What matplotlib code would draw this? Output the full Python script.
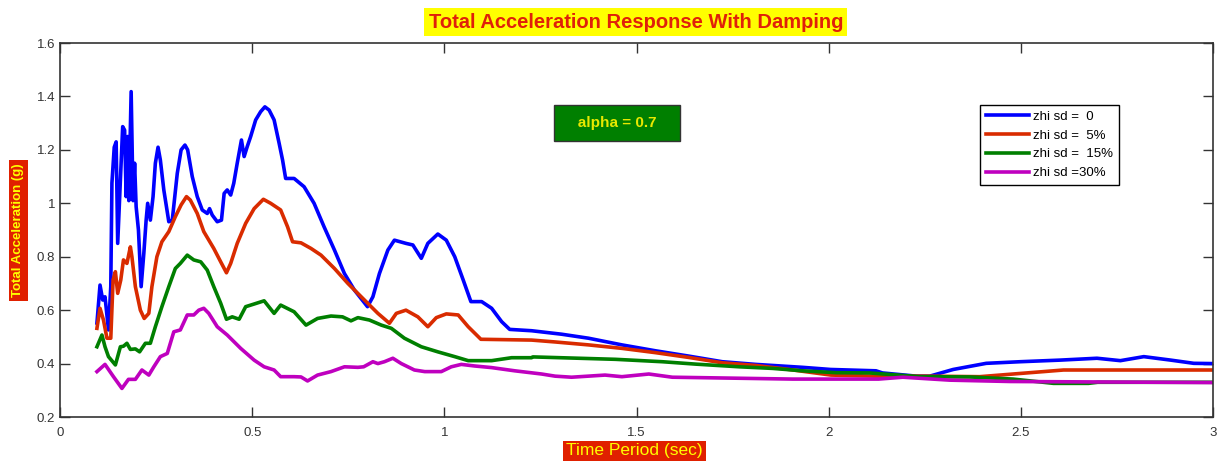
import matplotlib
matplotlib.use("Agg")
import matplotlib.pyplot as plt

# zhi sd = 0
period_0 = [0.096, 0.104, 0.111, 0.117, 0.126, 0.132, 0.135, 0.141, 0.146, 0.150,
            0.157, 0.163, 0.168, 0.172, 0.176, 0.179, 0.185, 0.190, 0.194, 0.198,
            0.204, 0.211, 0.218, 0.224, 0.228, 0.235, 0.242, 0.248, 0.255, 0.261,
            0.270, 0.283, 0.292, 0.305, 0.315, 0.325, 0.332, 0.344, 0.357, 0.370,
            0.383, 0.389, 0.396, 0.409, 0.420, 0.427, 0.435, 0.444, 0.452, 0.461,
            0.472, 0.479, 0.487, 0.496, 0.509, 0.522, 0.533, 0.544, 0.557, 0.570,
            0.579, 0.587, 0.609, 0.635, 0.661, 0.687, 0.714, 0.740, 0.766, 0.800,
            0.814, 0.831, 0.853, 0.870, 0.900, 0.918, 0.940, 0.957, 0.983, 1.005,
            1.027, 1.049, 1.069, 1.097, 1.123, 1.149, 1.170, 1.227, 1.305, 1.375,
            1.462, 1.549, 1.636, 1.723, 1.810, 1.932, 2.005, 2.123, 2.140, 2.228,
            2.263, 2.324, 2.410, 2.498, 2.602, 2.698, 2.759, 2.820, 2.890, 2.950, 3.0]
acc_0 = [0.552, 0.694, 0.638, 0.650, 0.526, 0.688, 1.076, 1.210, 1.230, 0.850,
         1.087, 1.287, 1.274, 1.025, 1.250, 1.010, 1.418, 1.010, 1.150, 0.987,
         0.900, 0.688, 0.813, 0.937, 1.000, 0.937, 1.025, 1.150, 1.210, 1.162,
         1.050, 0.931, 0.937, 1.112, 1.200, 1.218, 1.200, 1.100, 1.025, 0.975,
         0.962, 0.980, 0.956, 0.931, 0.937, 1.037, 1.050, 1.031, 1.075, 1.150,
         1.237, 1.175, 1.212, 1.250, 1.312, 1.343, 1.361, 1.349, 1.312, 1.225,
         1.162, 1.093, 1.093, 1.062, 1.000, 0.912, 0.825, 0.737, 0.675, 0.613,
         0.650, 0.737, 0.825, 0.862, 0.850, 0.844, 0.794, 0.850, 0.885, 0.862,
         0.800, 0.713, 0.632, 0.632, 0.607, 0.557, 0.528, 0.523, 0.510, 0.495,
         0.470, 0.448, 0.428, 0.407, 0.397, 0.386, 0.378, 0.373, 0.365, 0.353,
         0.353, 0.378, 0.401, 0.407, 0.413, 0.420, 0.411, 0.426, 0.413, 0.401, 0.400]

# zhi sd = 5%
period_5 = [0.096, 0.104, 0.113, 0.122, 0.132, 0.138, 0.144, 0.150, 0.158, 0.165,
            0.174, 0.183, 0.187, 0.196, 0.209, 0.219, 0.231, 0.239, 0.252, 0.265,
            0.283, 0.300, 0.315, 0.329, 0.339, 0.357, 0.374, 0.400, 0.418, 0.433,
            0.444, 0.461, 0.483, 0.505, 0.529, 0.548, 0.574, 0.592, 0.605, 0.627,
            0.653, 0.679, 0.714, 0.749, 0.792, 0.827, 0.857, 0.875, 0.900, 0.931,
            0.957, 0.979, 1.005, 1.036, 1.062, 1.095, 1.227, 1.288, 1.375, 1.462,
            1.549, 1.636, 1.723, 1.810, 1.897, 2.006, 2.120, 2.250, 2.393, 2.480,
            2.559, 2.611, 3.0]
acc_5 = [0.532, 0.607, 0.563, 0.495, 0.495, 0.713, 0.744, 0.663, 0.713, 0.788,
         0.775, 0.837, 0.800, 0.688, 0.600, 0.569, 0.588, 0.688, 0.800, 0.856,
         0.894, 0.950, 0.994, 1.025, 1.012, 0.962, 0.894, 0.831, 0.781, 0.740,
         0.775, 0.850, 0.925, 0.980, 1.015, 1.000, 0.975, 0.912, 0.856, 0.852,
         0.831, 0.806, 0.756, 0.700, 0.638, 0.588, 0.551, 0.588, 0.600, 0.575,
         0.538, 0.572, 0.586, 0.582, 0.538, 0.491, 0.488, 0.481, 0.470, 0.457,
         0.441, 0.423, 0.403, 0.393, 0.378, 0.357, 0.353, 0.353, 0.351, 0.361,
         0.370, 0.376, 0.376]

# zhi sd = 15%
period_15 = [0.096, 0.109, 0.117, 0.126, 0.144, 0.157, 0.165, 0.174, 0.183, 0.196,
             0.207, 0.222, 0.235, 0.248, 0.265, 0.283, 0.300, 0.313, 0.331, 0.348,
             0.366, 0.383, 0.400, 0.418, 0.433, 0.448, 0.466, 0.483, 0.505, 0.531,
             0.557, 0.574, 0.609, 0.640, 0.670, 0.705, 0.735, 0.757, 0.775, 0.805,
             0.836, 0.862, 0.896, 0.940, 0.983, 1.027, 1.062, 1.123, 1.175, 1.227,
             1.230, 1.445, 1.567, 1.654, 1.767, 1.854, 1.932, 2.019, 2.106, 2.237,
             2.367, 2.480, 2.585, 2.676, 2.700, 3.0]
acc_15 = [0.463, 0.507, 0.463, 0.426, 0.395, 0.463, 0.465, 0.476, 0.453, 0.455,
          0.444, 0.476, 0.476, 0.538, 0.613, 0.688, 0.756, 0.775, 0.806, 0.788,
          0.781, 0.750, 0.688, 0.626, 0.566, 0.575, 0.566, 0.613, 0.623, 0.635,
          0.588, 0.619, 0.594, 0.544, 0.569, 0.578, 0.575, 0.560, 0.572, 0.563,
          0.544, 0.532, 0.495, 0.463, 0.444, 0.426, 0.411, 0.411, 0.422, 0.422,
          0.425, 0.416, 0.407, 0.398, 0.388, 0.382, 0.373, 0.366, 0.365, 0.351,
          0.350, 0.342, 0.326, 0.326, 0.330, 0.330]

# zhi sd = 30%
period_30 = [0.096, 0.117, 0.139, 0.161, 0.178, 0.196, 0.213, 0.231, 0.244, 0.261,
             0.279, 0.296, 0.313, 0.331, 0.348, 0.361, 0.374, 0.387, 0.409, 0.435,
             0.470, 0.505, 0.531, 0.557, 0.574, 0.609, 0.627, 0.644, 0.670, 0.705,
             0.740, 0.775, 0.790, 0.814, 0.827, 0.844, 0.866, 0.888, 0.922, 0.949,
             0.992, 1.018, 1.044, 1.079, 1.123, 1.183, 1.253, 1.288, 1.331, 1.418,
             1.462, 1.532, 1.593, 1.906, 2.130, 2.193, 2.315, 2.472, 3.0]
acc_30 = [0.370, 0.397, 0.351, 0.307, 0.341, 0.341, 0.376, 0.357, 0.388, 0.426,
          0.438, 0.519, 0.526, 0.582, 0.582, 0.600, 0.607, 0.588, 0.538, 0.507,
          0.457, 0.413, 0.388, 0.376, 0.351, 0.351, 0.350, 0.335, 0.357, 0.370,
          0.388, 0.386, 0.388, 0.407, 0.400, 0.407, 0.420, 0.400, 0.376, 0.370,
          0.370, 0.388, 0.397, 0.391, 0.385, 0.373, 0.361, 0.353, 0.349, 0.357,
          0.351, 0.361, 0.349, 0.342, 0.342, 0.349, 0.338, 0.333, 0.329]

labels = ["zhi sd =  0", "zhi sd =  5%", "zhi sd =  15%", "zhi sd =30%"]
colors = ["#0000ff", "#d92b00", "#007f00", "#bf00bf"]

plt.rcParams["font.family"] = ["Liberation Sans", "DejaVu Sans"]

fig = plt.figure(figsize=(12.18, 4.61), dpi=100)
ax = fig.add_axes([0.0493, 0.0954, 0.9466, 0.8113])

series = [(period_0, acc_0), (period_5, acc_5), (period_15, acc_15), (period_30, acc_30)]
for (x, y), color, label in zip(series, colors, labels):
    ax.plot(x, y, color=color, linewidth=2.6, label=label)

ax.set_xlim(0, 3)
ax.set_ylim(0.2, 1.6)
ax.set_xticks([0, 0.5, 1, 1.5, 2, 2.5, 3])
ax.set_xticklabels(["0", "0.5", "1", "1.5", "2", "2.5", "3"])
ax.set_yticks([0.2, 0.4, 0.6, 0.8, 1.0, 1.2, 1.4, 1.6])
ax.set_yticklabels(["0.2", "0.4", "0.6", "0.8", "1", "1.2", "1.4", "1.6"])
ax.tick_params(direction="in", top=True, right=True, length=7, width=1,
               labelsize=9.5, labelcolor="#333333", colors="#333333")
ax.tick_params(axis="x", pad=7)
for spine in ax.spines.values():
    spine.set_color("#333333")
    spine.set_linewidth(1.2)

# title, axis labels in coloured boxes
fig.text(0.522, 0.952, "Total Acceleration Response With Damping", ha="center", va="center",
         fontsize=14.5, fontweight="bold", color="#e0200a",
         bbox=dict(facecolor="#ffff00", edgecolor="none", pad=3))
fig.text(0.521, 0.022, "Time Period (sec)", ha="center", va="center",
         fontsize=12.5, color="#ffff00",
         bbox=dict(facecolor="#e02000", edgecolor="none", pad=2))
fig.text(0.015, 0.5, "Total Acceleration (g)", ha="center", va="center", rotation=90,
         fontsize=9.5, fontweight="bold", color="#ffff00",
         bbox=dict(facecolor="#e02000", edgecolor="none", pad=2.5))

ax.text(1.45, 1.30, "   alpha = 0.7   ", ha="center", va="center", fontsize=11,
        fontweight="bold", color="#e8e800",
        bbox=dict(facecolor="#007f00", edgecolor="#333333", boxstyle="square,pad=0.7"))

leg = ax.legend(loc="upper left", bbox_to_anchor=(0.792, 0.853), fontsize=9.5,
                fancybox=False, framealpha=1, edgecolor="black", handlelength=3.3,
                borderpad=0.45, labelspacing=0.5, handletextpad=0.3)
leg.get_frame().set_linewidth(1.0)

plt.savefig("out.png", dpi=100)
